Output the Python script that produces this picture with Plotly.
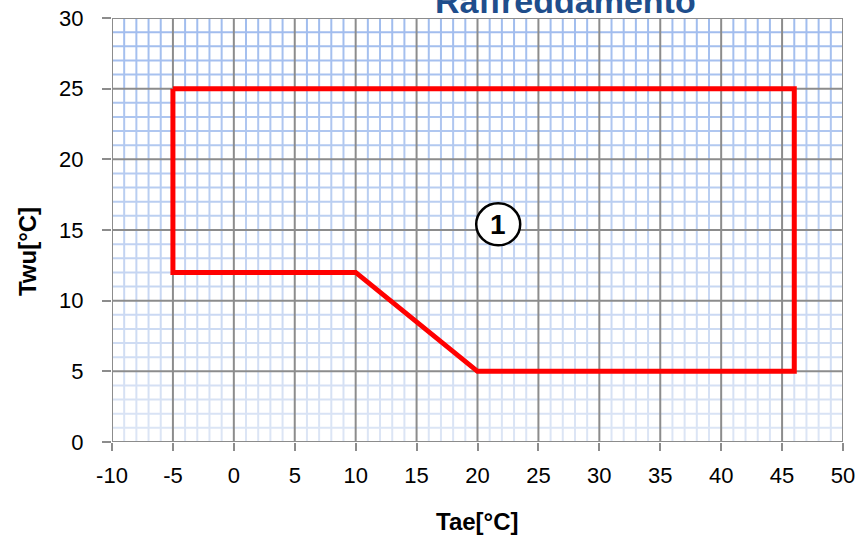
import plotly.graph_objects as go

# Data
tae = [-5, 46, 46, 20, 10, -5, -5]
twu = [25, 25, 5, 5, 12, 12, 25]
zone_label = "1"
zone_pos = (21.7, 15.4)
x_ticks = [-10, -5, 0, 5, 10, 15, 20, 25, 30, 35, 40, 45, 50]
x_labels = ["-10", "-5", "0", "5", "10", "15", "20", "25", "30", "35", "40", "45", "50"]
y_ticks = [0, 5, 10, 15, 20, 25, 30]
y_labels = ["0", "5", "10", "15", "20", "25", "30"]
title_text = "Raffreddamento"
x_title = "Tae[°C]"
y_title = "Twu[°C]"

XMIN, XMAX, YMIN, YMAX = -10, 50, 0, 30
bottom_c = (221, 230, 245)
top_c = (160, 188, 238)
FONT = "Liberation Sans, Arial, sans-serif"


def grad(y):
    t = (y - YMIN) / (YMAX - YMIN)
    c = [round(b + (a - b) * t) for a, b in zip(top_c, bottom_c)]
    return f"rgb({c[0]},{c[1]},{c[2]})"


fig = go.Figure()

# minor vertical grid lines, drawn in bands for gradient
minor_x = [x for x in range(XMIN, XMAX + 1) if x % 5 != 0]
for yb in range(YMIN, YMAX):
    xs, ys = [], []
    for x in minor_x:
        xs += [x, x, None]
        ys += [yb, yb + 1, None]
    fig.add_trace(go.Scatter(x=xs, y=ys, mode="lines",
                             line=dict(color=grad(yb + 0.5), width=2),
                             hoverinfo="skip", showlegend=False))
# minor horizontal grid lines
for y in range(YMIN, YMAX + 1):
    if y % 5 != 0:
        fig.add_trace(go.Scatter(x=[XMIN, XMAX], y=[y, y], mode="lines",
                                 line=dict(color=grad(y), width=2),
                                 hoverinfo="skip", showlegend=False))
# major grid lines
mx, my = [], []
for x in x_ticks:
    mx += [x, x, None]
    my += [YMIN, YMAX, None]
for y in y_ticks:
    mx += [XMIN, XMAX, None]
    my += [y, y, None]
fig.add_trace(go.Scatter(x=mx, y=my, mode="lines",
                         line=dict(color="#8c8c8c", width=2),
                         hoverinfo="skip", showlegend=False))

# operating envelope
fig.add_trace(go.Scatter(x=tae, y=twu, mode="lines",
                         line=dict(color="#ff0000", width=5),
                         showlegend=False))

fig.add_shape(type="circle", xref="x", yref="y", xsizemode="pixel", ysizemode="pixel",
              xanchor=zone_pos[0], yanchor=zone_pos[1], x0=-22, x1=22, y0=-21, y1=21,
              line=dict(color="black", width=2.5), fillcolor="white", layer="above")
fig.add_annotation(x=zone_pos[0], y=zone_pos[1], xref="x", yref="y",
                   text="<b>" + zone_label + "</b>", showarrow=False,
                   font=dict(family=FONT, size=28, color="black"))

# chart title (cut off at top as in reference)
fig.add_annotation(x=0.62, y=1, xref="paper", yref="paper", xanchor="center",
                   yanchor="bottom", yshift=-4, text="<b>" + title_text + "</b>",
                   showarrow=False,
                   font=dict(family=FONT, size=34, color="#1f4e8c"))

# axis titles
fig.add_annotation(x=0.5, y=0, xref="paper", yref="paper", xanchor="center",
                   yanchor="middle", yshift=-79, text="<b>" + x_title + "</b>",
                   showarrow=False, font=dict(family=FONT, size=24, color="black"))
fig.add_annotation(x=0, y=0.448, xref="paper", yref="paper", xanchor="center",
                   yanchor="middle", xshift=-85, textangle=-90,
                   text="<b>" + y_title + "</b>",
                   showarrow=False, font=dict(family=FONT, size=24, color="black"))

axis_common = dict(showgrid=False, zeroline=False, showline=False, automargin=False,
                   ticks="outside", tickcolor="#8c8c8c", tickwidth=2,
                   tickfont=dict(family=FONT, size=22, color="black"))

fig.update_xaxes(range=[XMIN, XMAX], tickvals=x_ticks, ticktext=x_labels, ticklen=8,
                 ticklabelstandoff=6, **axis_common)
fig.update_yaxes(range=[YMIN, YMAX], tickvals=y_ticks, ticktext=y_labels, ticklen=9,
                 ticklabelstandoff=14, **axis_common)

fig.update_layout(width=856, height=536, margin=dict(l=112, r=13, t=18, b=94),
                  plot_bgcolor="white", paper_bgcolor="white")

fig.write_html("out.html", config={"displayModeBar": False},
               post_script="document.body.style.margin='0';")
